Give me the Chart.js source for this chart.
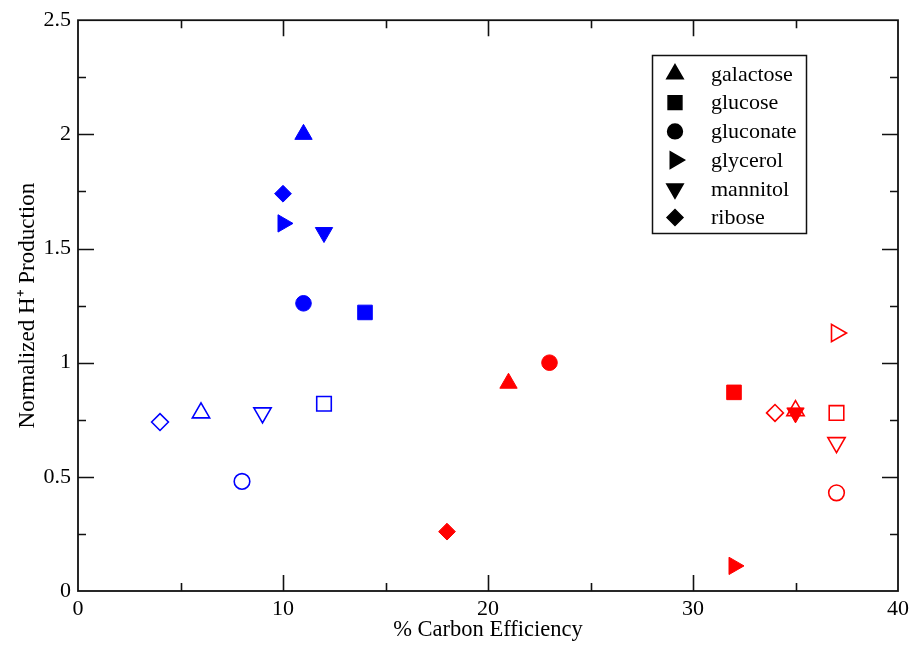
<!DOCTYPE html>
<html><head><meta charset="utf-8">
<script src="https://cdn.jsdelivr.net/npm/chart.js@4.4.1/dist/chart.umd.min.js"></script>
<style>html,body{margin:0;padding:0;background:#fff}</style>
</head><body>
<canvas id="c" width="914" height="648"></canvas>
<script>
// ---- data ----
const sugars = ['galactose', 'glucose', 'gluconate', 'glycerol', 'mannitol', 'ribose'];
const blueFilledX = [11, 14, 11, 10, 12, 10];
const blueFilledY = [2.0, 1.22, 1.26, 1.61, 1.57, 1.74];
const blueOpenX = [6, 12, 8, null, 9, 4];
const blueOpenY = [0.78, 0.82, 0.48, null, 0.78, 0.74];
const redFilledX = [21, 32, 23, 32, 35, 18];
const redFilledY = [0.91, 0.87, 1.0, 0.11, 0.78, 0.26];
const redOpenX = [35, 37, 37, 37, 37, 34];
const redOpenY = [0.79, 0.78, 0.43, 1.13, 0.65, 0.78];
const xTickValues = [0, 10, 20, 30, 40];
const xTickLabels = ['0', '10', '20', '30', '40'];
const yTickValues = [0, 0.5, 1, 1.5, 2, 2.5];
const yTickLabels = ['0', '0.5', '1', '1.5', '2', '2.5'];

// ---- styles ----
const sugarStyle = ['triangle', 'rect', 'circle', 'triangle', 'triangle', 'rectRot'];
const sugarRotation = [0, 0, 0, 90, 180, 0];
const sugarRadius = [10, 10.3, 7.8, 10, 10, 8.4];
const FONT = 'Liberation Serif';
Chart.defaults.font.family = FONT;
Chart.defaults.color = '#000';

function makeSet(xs, ys, color, filled) {
  const pts = [];
  xs.forEach((x, i) => { if (x !== null) pts.push({x: x, y: ys[i], s: i}); });
  return {
    data: pts,
    showLine: false,
    pointStyle: pts.map(p => sugarStyle[p.s]),
    rotation: pts.map(p => sugarRotation[p.s]),
    pointRadius: pts.map(p => sugarRadius[p.s]),
    pointHoverRadius: pts.map(p => sugarRadius[p.s]),
    pointBackgroundColor: filled ? color : 'rgba(0,0,0,0)',
    pointBorderColor: color,
    pointBorderWidth: filled ? 1 : 1.6
  };
}

const frameTicks = {
  id: 'frameTicks',
  beforeDatasetsDraw(chart) {
    const {ctx, chartArea: a, scales: {x, y}} = chart;
    ctx.save();
    ctx.strokeStyle = '#111';
    ctx.lineWidth = 1.6;
    for (let v = 5; v < 40; v += 5) {
      const len = (v % 10 === 0) ? 16 : 8;
      const px = Math.round(x.getPixelForValue(v)) + 0.5;
      ctx.beginPath();
      ctx.moveTo(px, a.bottom); ctx.lineTo(px, a.bottom - len);
      ctx.moveTo(px, a.top); ctx.lineTo(px, a.top + len);
      ctx.stroke();
    }
    for (let i = 1; i < 10; i++) {
      const v = i * 0.25;
      const len = (i % 2 === 0) ? 16 : 8;
      const py = Math.round(y.getPixelForValue(v)) + 0.5;
      ctx.beginPath();
      ctx.moveTo(a.left, py); ctx.lineTo(a.left + len, py);
      ctx.moveTo(a.right, py); ctx.lineTo(a.right - len, py);
      ctx.stroke();
    }
    ctx.lineWidth = 1.8;
    ctx.strokeRect(a.left, a.top, a.right - a.left, a.bottom - a.top);
    ctx.restore();
  }
};

const legendBox = {
  id: 'legendBox',
  afterDraw(chart) {
    const ctx = chart.ctx;
    const L = 652, T = 55, R = 806, B = 233;
    ctx.save();
    ctx.fillStyle = '#fff';
    ctx.fillRect(L, T, R - L, B - T);
    ctx.strokeStyle = '#111';
    ctx.lineWidth = 1.5;
    ctx.strokeRect(L + 0.5, T + 0.5, R - L, B - T);
    ctx.font = '22px "' + FONT + '"';
    ctx.textBaseline = 'middle';
    ctx.textAlign = 'left';
    sugars.forEach((name, i) => {
      const cy = 74 + i * 28.7;
      ctx.fillStyle = '#000';
      ctx.strokeStyle = '#000';
      Chart.helpers.drawPoint(ctx, {pointStyle: sugarStyle[i], rotation: sugarRotation[i], radius: sugarRadius[i] * 0.95, borderWidth: 1}, 675, cy);
      ctx.fillStyle = '#000';
      ctx.fillText(name, 711, cy + 1);
    });
    ctx.restore();
  }
};

new Chart(document.getElementById('c'), {
  type: 'scatter',
  data: {
    datasets: [
      makeSet(blueOpenX, blueOpenY, '#0000ff', false),
      makeSet(redOpenX, redOpenY, '#ff0000', false),
      makeSet(blueFilledX, blueFilledY, '#0000ff', true),
      makeSet(redFilledX, redFilledY, '#ff0000', true)
    ]
  },
  options: {
    responsive: false,
    animation: false,
    layout: {padding: {left: 10, right: 16, top: 15, bottom: 4}},
    plugins: {legend: {display: false}, tooltip: {enabled: false}},
    scales: {
      x: {
        type: 'linear', min: 0, max: 40,
        afterBuildTicks: s => { s.ticks = xTickValues.map(v => ({value: v})); },
        afterFit: s => { s.height = 53; },
        ticks: {callback: (v, i) => xTickLabels[i], font: {size: 22}, color: '#000', padding: 5, maxRotation: 0, autoSkip: false},
        grid: {display: false, drawTicks: false},
        border: {display: false},
        title: {display: true, text: '% Carbon Efficiency', font: {size: 22.5}, color: '#000', padding: 0}
      },
      y: {
        type: 'linear', min: 0, max: 2.5,
        afterBuildTicks: s => { s.ticks = yTickValues.map(v => ({value: v})); },
        afterFit: s => { s.width = 68; },
        ticks: {callback: (v, i) => yTickLabels[i], font: {size: 22}, color: '#000', padding: 7, autoSkip: false},
        grid: {display: false, drawTicks: false},
        border: {display: false},
        title: {display: true, text: 'Normalized H\u207A Production', font: {size: 23}, color: '#000', padding: {top: 4, bottom: 0}}
      }
    }
  },
  plugins: [frameTicks, legendBox]
});
</script>
</body></html>
